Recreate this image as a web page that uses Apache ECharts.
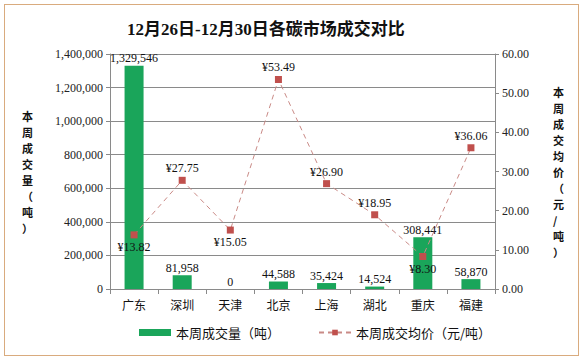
<!DOCTYPE html>
<html><head><meta charset="utf-8">
<script src="https://cdn.jsdelivr.net/npm/echarts@6/dist/echarts.min.js"></script>
<style>
html,body{margin:0;padding:0;background:#fff;}
#frame{position:absolute;left:4px;top:4px;width:573px;height:350px;border:1.5px solid #d9ab7e;background:#fff;}
#c{position:absolute;left:0;top:0;width:584px;height:361px;}
</style></head>
<body>
<div id="frame"></div>
<div id="c"></div>
<script>
const categories = ['广东','深圳','天津','北京','上海','湖北','重庆','福建'];
const volume = [1329546, 81958, 0, 44588, 35424, 14524, 308441, 58870];
const price = [13.82, 27.75, 15.05, 53.49, 26.90, 18.95, 8.30, 36.06];
const priceLabelPos = ['bottom','top','bottom','top','top','top','bottom','top'];
const leftName = '本周成交量（吨）';
const rightName = '本周成交均价（元/吨）';

const serif = '"Liberation Serif", "Noto Sans CJK SC", serif';
const cjk = '"Noto Sans CJK SC", sans-serif';
const gray = '#8a8a8a';

const chart = echarts.init(document.getElementById('c'), null, {renderer:'svg'});
chart.setOption({
  backgroundColor: 'transparent',
  animation: false,
  title: {
    text: '12月26日-12月30日各碳市场成交对比',
    left: 122, top: 16,
    textStyle: {fontFamily: serif, fontWeight: 'bold', fontSize: 17, color: '#111'}
  },
  grid: {left: 110, right: 89, top: 54, bottom: 72},
  legend: {
    left: 134, top: 321,
    itemGap: 38,
    textStyle: {fontFamily: cjk, fontSize: 13, color: '#111'},
    data: [
      {name: '本周成交量（吨）', icon: 'rect'},
      {name: '本周成交均价（元/吨）'}
    ],
    itemWidth: 32, itemHeight: 7
  },
  xAxis: {
    type: 'category', data: categories,
    axisLine: {lineStyle: {color: gray}},
    axisTick: {show: true, length: 5, lineStyle: {color: gray}},
    axisLabel: {fontFamily: cjk, fontSize: 12, color: '#111', margin: 9}
  },
  yAxis: [
    {
      type: 'value', min: 0, max: 1400000, interval: 200000,
      name: leftName.split('').join('\n'),
      nameLocation: 'middle', nameRotate: 0, nameGap: 77,
      nameTextStyle: {fontFamily: cjk, fontWeight: 'bold', fontSize: 11, lineHeight: 16, color: '#111'},
      axisLine: {show: true, lineStyle: {color: gray}},
      axisTick: {show: true, length: 4, lineStyle: {color: gray}},
      splitLine: {lineStyle: {color: gray}},
      axisLabel: {fontFamily: serif, fontSize: 12, color: '#222', margin: 7,
        formatter: v => v.toLocaleString('en-US')}
    },
    {
      type: 'value', min: 0, max: 60, interval: 10,
      name: rightName.split('').join('\n'),
      nameLocation: 'middle', nameRotate: 0, nameGap: 58,
      nameTextStyle: {fontFamily: cjk, fontWeight: 'bold', fontSize: 11, lineHeight: 16, color: '#111'},
      axisLine: {show: true, lineStyle: {color: gray}},
      axisTick: {show: true, length: 4, lineStyle: {color: gray}},
      splitLine: {show: false},
      axisLabel: {fontFamily: serif, fontSize: 12, color: '#222', margin: 7,
        formatter: v => v.toFixed(2)}
    }
  ],
  series: [
    {
      name: '本周成交量（吨）', type: 'bar', yAxisIndex: 0,
      data: volume, barWidth: 19,
      itemStyle: {color: '#1aa55a'},
      label: {show: true, position: 'top', distance: 1.5, fontFamily: serif, fontSize: 12, color: '#111',
        formatter: p => p.value.toLocaleString('en-US')}
    },
    {
      name: '本周成交均价（元/吨）', type: 'line', yAxisIndex: 1,
      data: price.map((v,i) => ({value: v, label: {position: priceLabelPos[i]}})),
      symbol: 'rect', symbolSize: 7,
      lineStyle: {color: '#c98a86', width: 1, type: [5,4]},
      itemStyle: {color: '#c0504d'},
      label: {show: true, distance: 2.5, fontFamily: serif, fontSize: 12, color: '#111',
        formatter: p => '¥' + p.value.toFixed(2)}
    }
  ]
});
</script>
</body></html>
